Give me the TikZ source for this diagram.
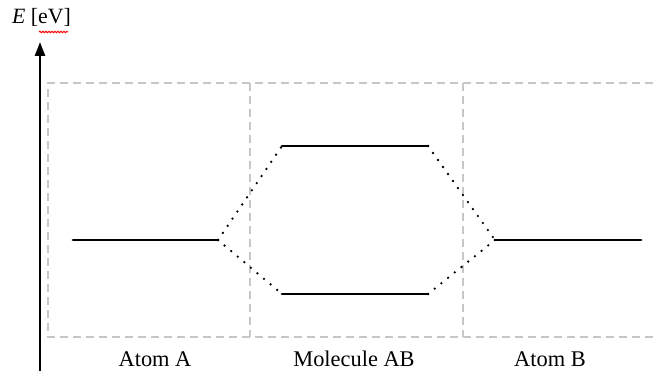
\documentclass[tikz,border=0pt]{standalone}
\usepackage{fontspec}
\setmainfont{Liberation Serif}
\usetikzlibrary{arrows.meta,decorations.pathmorphing}
\begin{document}
\begin{tikzpicture}[x=1pt,y=1pt,
  level/.style={line width=2.8pt, line cap=round},
  link/.style={line width=2.6pt, line cap=round, dash pattern=on 0pt off 8.6pt},
  frame/.style={draw=black!22, line width=1.6pt, dash pattern=on 8pt off 5pt},
  lab/.style={font=\fontsize{22.4}{26}\selectfont, anchor=base}]
\useasboundingbox (0,0) rectangle (653,371);
% frame
\draw[frame] (653,288) -- (48,288) -- (48,34) -- (653,34);
\draw[frame] (250,288) -- (250,34);
\draw[frame] (463,288) -- (463,34);
% axis
\coordinate (ax0) at (40,0);
\coordinate (ax1) at (40,329);
\draw[line width=2.5pt, -{Triangle[width=10pt,length=14pt]}] (ax0) -- (ax1);
\node[anchor=base west, inner sep=0pt, font=\fontsize{21.8}{25}\selectfont] (elab) at (12,347) {\textit{E} [eV]};
\coordinate (r0) at (39,339);
\coordinate (r1) at (68,339);
\draw[red, line width=1pt, decorate, decoration={snake, amplitude=0.7pt, segment length=3pt}] (r0) -- (r1);
% levels
\coordinate (a0) at (73,131);
\coordinate (a1) at (218,131);
\coordinate (u0) at (282,225);
\coordinate (u1) at (428,225);
\coordinate (l0) at (282,77);
\coordinate (l1) at (428,77);
\coordinate (b0) at (495,131);
\coordinate (b1) at (641,131);
\draw[level] (a0) -- (a1);
\draw[level] (u0) -- (u1);
\draw[level] (l0) -- (l1);
\draw[level] (b0) -- (b1);
\draw[link] (a1) -- (u0);
\draw[link] (a1) -- (l0);
\draw[link] (u1) -- (b0);
\draw[link] (l1) -- (b0);
% labels
\node[lab] (ta) at (155,4) {Atom A};
\node[lab] (tm) at (354,4) {Molecule AB};
\node[lab] (tb) at (550,4) {Atom B};
\end{tikzpicture}
\end{document}
